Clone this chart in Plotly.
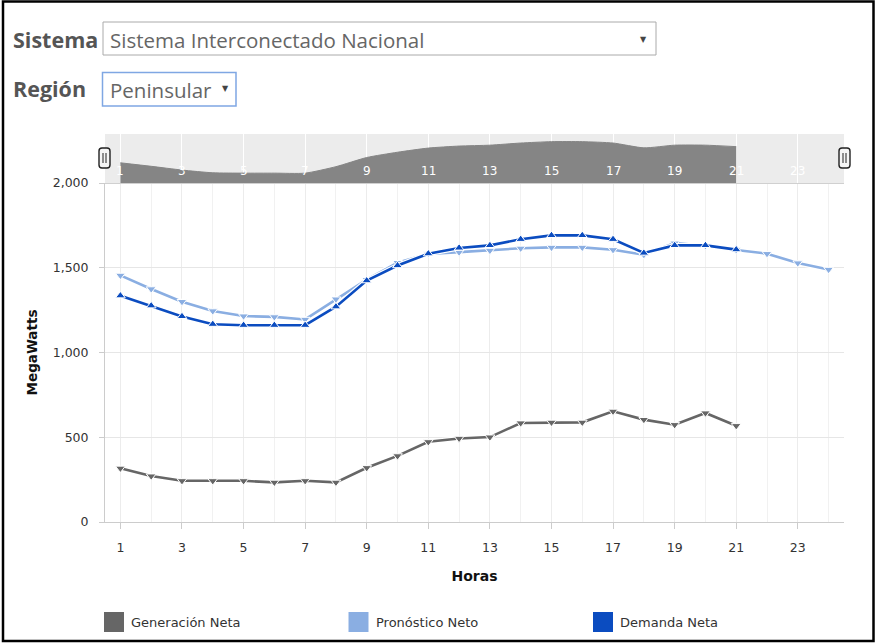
import plotly.graph_objects as go

# Hourly data (MW)
horas = list(range(1, 25))
generacion_neta = [317, 271, 243, 243, 243, 234, 243, 234, 320, 390, 473, 493,
                   501, 584, 588, 588, 653, 604, 574, 643, 568]
pronostico_neto = [1455, 1375, 1300, 1245, 1215, 1210, 1195, 1315, 1430, 1530,
                   1582, 1592, 1602, 1615, 1620, 1620, 1606, 1577, 1645, 1630,
                   1605, 1583, 1528, 1490]
demanda_neta = [1335, 1276, 1213, 1167, 1161, 1161, 1161, 1270, 1424, 1513,
                1583, 1617, 1632, 1668, 1691, 1691, 1668, 1587, 1632, 1632, 1607]

tick_horas = list(range(1, 24, 2))
tick_mw = [0, 500, 1000, 1500, 2000]

series = [
    ("Generación Neta", generacion_neta, "#666666", "triangle-down"),
    ("Pronóstico Neto", pronostico_neto, "#8aaee2", "triangle-down"),
    ("Demanda Neta", demanda_neta, "#0b4cc0", "triangle-up"),
]

W, H = 877, 644
L, R, T, B = 105, 844, 134, 522   # plot area in pixels
PW, PH = R - L, B - T


def px(x):
    return (x - L) / PW


def py(y):
    return (B - y) / PH


NAV_BOTTOM = py(183)

fig = go.Figure()

# Main series: white halo under each coloured line
for name, vals, color, sym in series:
    xs = horas[:len(vals)]
    fig.add_trace(go.Scatter(x=xs, y=vals, mode="lines", hoverinfo="skip",
                             line=dict(color="white", width=5),
                             showlegend=False, xaxis="x", yaxis="y"))
    fig.add_trace(go.Scatter(x=xs, y=vals, mode="lines+markers", name=name,
                             line=dict(color=color, width=2.6),
                             marker=dict(symbol=sym, size=8.5, color=color,
                                         line=dict(color="white", width=1)),
                             showlegend=False, xaxis="x", yaxis="y"))

# Navigator area (overview of Demanda Neta)
fig.add_trace(go.Scatter(x=horas[:len(demanda_neta)], y=demanda_neta,
                         mode="lines", fill="tozeroy", hoverinfo="skip",
                         line=dict(color="#858585", width=1, shape="spline",
                                   smoothing=0.6),
                         fillcolor="#858585", showlegend=False,
                         xaxis="x2", yaxis="y2"))

font_axis = "DejaVu Sans"

fig.update_layout(
    width=W, height=H, autosize=False,
    margin=dict(l=L, r=W - R, t=T, b=H - B, pad=0),
    paper_bgcolor="white", plot_bgcolor="white",
    showlegend=False,
    font=dict(family=font_axis, color="#333333"),
    xaxis=dict(
        domain=[0, 1], anchor="y", range=[0.5, 24.5],
        tickvals=tick_horas, ticks="outside", ticklen=6, tickcolor="#cccccc",
        tickfont=dict(family=font_axis, size=12.5, color="#333333"),
        ticklabelstandoff=8,
        showgrid=True, gridcolor="#ececec", gridwidth=1,
        minor=dict(dtick=1, tick0=0, showgrid=True, gridcolor="#f1f1f1",
                   ticks=""),
        showline=True, linecolor="#cccccc", linewidth=1, zeroline=False,
        title=dict(text="<b>Horas</b>", standoff=17,
                   font=dict(family=font_axis, size=14, color="#111111")),
    ),
    yaxis=dict(
        domain=[0, NAV_BOTTOM], anchor="x", range=[0, 2000],
        tickvals=tick_mw, tickformat=",", ticks="outside", ticklen=5,
        tickcolor="#cccccc",
        tickfont=dict(family=font_axis, size=12.5, color="#333333"),
        ticklabelstandoff=8,
        showgrid=True, gridcolor="#e6e6e6", gridwidth=1,
        showline=True, linecolor="#cccccc", linewidth=1, zeroline=False,
        automargin=False,
        title=dict(text="<b>MegaWatts</b>", standoff=11,
                   font=dict(family=font_axis, size=13.5, color="#111111")),
    ),
    xaxis2=dict(
        domain=[0, 1], anchor="y2", matches="x", range=[0.5, 24.5],
        tickvals=tick_horas, showticklabels=False, ticks="",
        showgrid=True, gridcolor="#ffffff", gridwidth=1,
        showline=True, linecolor="#d0d0d0", zeroline=False,
    ),
    yaxis2=dict(
        domain=[NAV_BOTTOM, 1], anchor="x2", range=[995, 1820],
        showticklabels=False, showgrid=False, zeroline=False, ticks="",
    ),
)

shapes = []
annotations = []

# Navigator background
shapes.append(dict(type="rect", xref="paper", yref="paper", layer="below",
                   x0=0, x1=1, y0=NAV_BOTTOM, y1=1,
                   fillcolor="#ececec", line=dict(width=0)))

# Navigator hour labels
for h in tick_horas:
    annotations.append(dict(x=h, y=py(171), xref="x2", yref="paper",
                            yanchor="middle", text=str(h), showarrow=False,
                            font=dict(family=font_axis, size=12,
                                      color="#ffffff")))


def handle(cx, cy, w=10, h=19, r=3):
    x0, x1 = px(cx - w / 2), px(cx + w / 2)
    y0, y1 = py(cy + h / 2), py(cy - h / 2)
    rx, ry = r / PW, r / PH
    path = (f"M{x0 + rx},{y1} L{x1 - rx},{y1} Q{x1},{y1} {x1},{y1 - ry} "
            f"L{x1},{y0 + ry} Q{x1},{y0} {x1 - rx},{y0} L{x0 + rx},{y0} "
            f"Q{x0},{y0} {x0},{y0 + ry} L{x0},{y1 - ry} Q{x0},{y1} {x0 + rx},{y1} Z")
    out = [dict(type="path", xref="paper", yref="paper", path=path,
                fillcolor="#f4f4f4", line=dict(color="#222222", width=1.4))]
    for dx in (-1.5, 1.5):
        out.append(dict(type="line", xref="paper", yref="paper",
                        x0=px(cx + dx), x1=px(cx + dx),
                        y0=py(cy + 5), y1=py(cy - 5),
                        line=dict(color="#222222", width=1)))
    return out


shapes += handle(104.5, 158, w=11, h=20)
shapes += handle(844.5, 158, w=11, h=20)

# Selector controls above the chart
ctrl_font = "Open Sans"
label_color = "#555555"
shapes.append(dict(type="rect", xref="paper", yref="paper",
                   x0=px(103), x1=px(656), y0=py(55), y1=py(22),
                   fillcolor="white", line=dict(color="#aaaaaa", width=1)))
shapes.append(dict(type="rect", xref="paper", yref="paper",
                   x0=px(102.5), x1=px(236), y0=py(106), y1=py(72.5),
                   fillcolor="white", line=dict(color="#7fa7e3", width=1.5)))

annotations += [
    dict(x=px(11), y=py(40), xref="paper", yref="paper", xanchor="left",
         yanchor="middle", showarrow=False, text="<b>Sistema</b>",
         font=dict(family=ctrl_font, size=21.5, color=label_color)),
    dict(x=px(108), y=py(40), xref="paper", yref="paper", xanchor="left",
         yanchor="middle", showarrow=False,
         text="Sistema Interconectado Nacional",
         font=dict(family=ctrl_font, size=20.5, color="#666666")),
    dict(x=px(643), y=py(39), xref="paper", yref="paper", xanchor="center",
         yanchor="middle", showarrow=False, text="▼",
         font=dict(family=font_axis, size=8, color="#444444")),
    dict(x=px(11), y=py(89), xref="paper", yref="paper", xanchor="left",
         yanchor="middle", showarrow=False, text="<b>Región</b>",
         font=dict(family=ctrl_font, size=21.5, color=label_color)),
    dict(x=px(108), y=py(90), xref="paper", yref="paper", xanchor="left",
         yanchor="middle", showarrow=False, text="Peninsular",
         font=dict(family=ctrl_font, size=20.5, color="#666666")),
    dict(x=px(225), y=py(88), xref="paper", yref="paper", xanchor="center",
         yanchor="middle", showarrow=False, text="▼",
         font=dict(family=font_axis, size=8, color="#444444")),
]

# Legend row
legend_x = [104, 348.5, 593]
for (name, _, color, _), lx in zip(series, legend_x):
    shapes.append(dict(type="rect", xref="paper", yref="paper",
                       x0=px(lx), x1=px(lx + 20), y0=py(632), y1=py(612),
                       fillcolor=color, line=dict(width=0)))
    annotations.append(dict(x=px(lx + 25), y=py(622), xref="paper",
                            yref="paper", xanchor="left", yanchor="middle",
                            showarrow=False, text=name,
                            font=dict(family=font_axis, size=13,
                                      color="#333333")))

# Outer frame
shapes.append(dict(type="rect", xref="paper", yref="paper",
                   x0=px(3), x1=px(873.5), y0=py(641), y1=py(1.5),
                   fillcolor="rgba(0,0,0,0)", line=dict(color="#000000",
                                                        width=2.5)))

fig.update_layout(shapes=shapes, annotations=annotations)

fig.write_html("out.html")
